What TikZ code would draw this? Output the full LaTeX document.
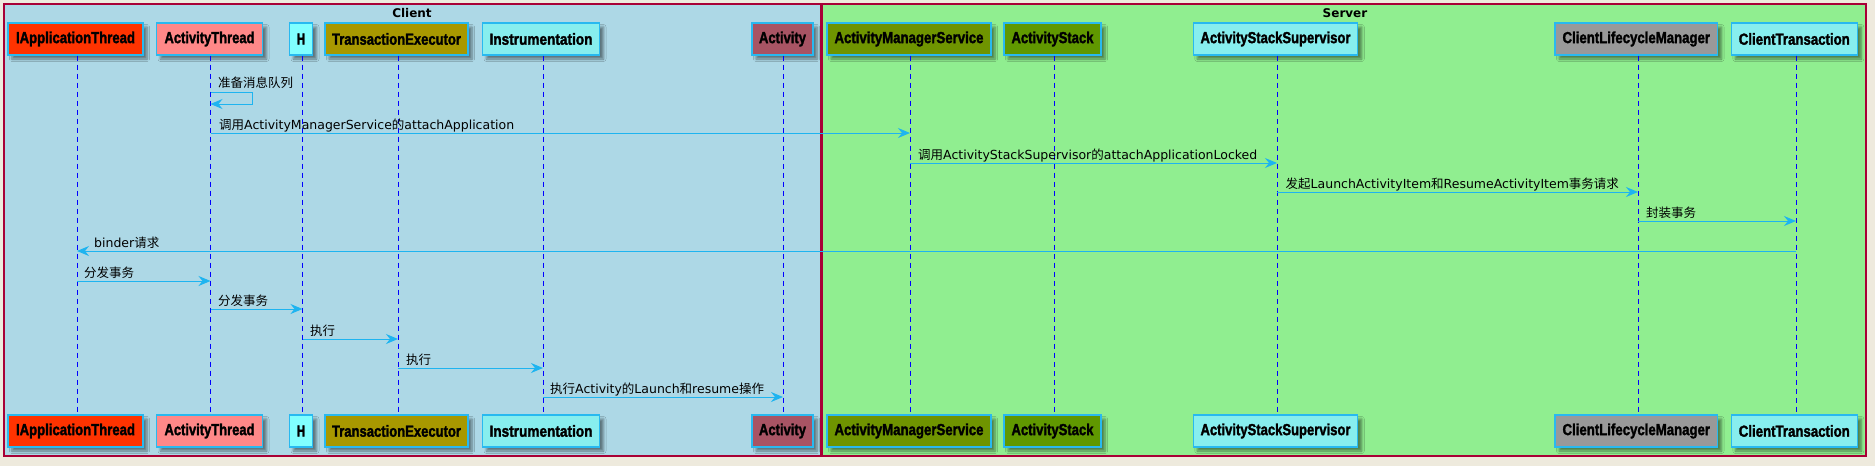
\documentclass[tikz,border=0pt]{standalone}
\usepackage{fontspec}
\usepackage{graphicx}
\setmainfont{DejaVu Sans}
\newfontfamily\cjk{Noto Sans CJK SC}
\newfontfamily\pfontfam{Liberation Sans}[BoldFeatures={FakeBold=2}]
\usetikzlibrary{arrows.meta,shadows.blur}
\definecolor{pagebg}{RGB}{238,234,221}
\definecolor{clientbg}{RGB}{173,216,230}
\definecolor{serverbg}{RGB}{144,238,144}
\definecolor{framec}{RGB}{168,0,54}
\definecolor{partborder}{RGB}{40,185,240}
\definecolor{arrowc}{RGB}{30,180,240}
\definecolor{cIAT}{RGB}{255,51,0}
\definecolor{cAT}{RGB}{255,136,136}
\definecolor{cH}{RGB}{128,255,255}
\definecolor{cTE}{RGB}{168,152,0}
\definecolor{cCyan}{RGB}{135,238,238}
\definecolor{cAct}{RGB}{168,84,100}
\definecolor{cAMS}{RGB}{111,148,0}
\definecolor{cAS}{RGB}{96,152,0}
\definecolor{cCLM}{RGB}{153,153,153}
\newcommand\pfont{\pfontfam\bfseries\fontsize{16}{16}\selectfont}
\newcommand\lfont{\fontsize{12.5}{14}\selectfont}
\newcommand\fitpname[2]{\resizebox{#1}{\height}{#2}}
\tikzset{
  part/.style={draw=partborder, line width=1.2pt, minimum height=32pt, inner sep=0pt,
    font=\pfont, text=black,
    blur shadow={shadow xshift=4pt, shadow yshift=-4pt, shadow blur radius=2.5pt,
      shadow blur steps=5, shadow opacity=45}},
  lifeline/.style={draw=blue, dash pattern=on 5pt off 4pt, line width=0.9pt},
  msg/.style={draw=arrowc, line width=1pt, -{Stealth[length=12pt,width=10pt,inset=4pt]}},
  lbl/.style={font=\lfont, inner sep=0pt, anchor=base west, text=black},
  frame/.style={draw=framec, line width=1.3pt},
  ftitle/.style={font=\bfseries\fontsize{12}{12}\selectfont, inner sep=0pt, text=black},
}
\begin{document}
\begin{tikzpicture}[x=1pt,y=-1pt]
\useasboundingbox (0,0) rectangle (1875,466);
\fill[pagebg] (0,0) rectangle (1875,466);
% boxes
\draw[frame, fill=clientbg] (4,4) rectangle (820.5,456);
\draw[frame, fill=serverbg] (822,4) rectangle (1866,456);
\node[ftitle] (tclient) at (412,13) {Client};
\node[ftitle] (tserver) at (1345,13) {Server};
% participants top and bottom
\foreach \y/\s in {39/T, 431/B}{
  \node[part, fill=cIAT, minimum width=135pt] (iat\s) at (75.5,\y) {\fitpname{119pt}{IApplicationThread}};
  \node[part, fill=cAT, minimum width=106pt] (at\s) at (209.5,\y) {\fitpname{90pt}{ActivityThread}};
  \node[part, fill=cH, minimum width=23pt] (h\s) at (301,\y) {\fitpname{8pt}{H}};
  \node[part, fill=cTE, minimum width=143pt] (te\s) at (396.5,\y) {\fitpname{129pt}{TransactionExecutor}};
  \node[part, fill=cCyan, minimum width=117pt] (ins\s) at (541,\y) {\fitpname{103pt}{Instrumentation}};
  \node[part, fill=cAct, minimum width=61pt] (act\s) at (782.5,\y) {\fitpname{47pt}{Activity}};
  \node[part, fill=cAMS, minimum width=164pt] (ams\s) at (909,\y) {\fitpname{149pt}{ActivityManagerService}};
  \node[part, fill=cAS, minimum width=97pt] (as\s) at (1052.5,\y) {\fitpname{82pt}{ActivityStack}};
  \node[part, fill=cCyan, minimum width=164.5pt] (ass\s) at (1275.5,\y) {\fitpname{150pt}{ActivityStackSupervisor}};
  \node[part, fill=cCLM, minimum width=162.5pt] (clm\s) at (1636.3,\y) {\fitpname{147.5pt}{ClientLifecycleManager}};
  \node[part, fill=cCyan, minimum width=126pt] (ct\s) at (1794.3,\y) {\fitpname{111pt}{ClientTransaction}};
}
% lifelines
\foreach \n/\x in {iat/77, at/210.5, h/302.5, te/398, ins/543, act/783, ams/910, as/1054, ass/1277, clm/1638, ct/1796}{
  \coordinate (L-\n) at (\x,55);
  \draw[lifeline] (\n T.south -| L-\n) -- (\n B.north -| L-\n);
}
% messages
\draw[msg] (L-at |- 0,92) -- ++(42,0) -- ++(0,12) -- (L-at |- 0,104);
\node[lbl] (m0) at (218,87.5) {\cjk 准备消息队列};
\draw[msg] (L-at |- 0,133) -- (L-ams |- 0,133);
\node[lbl] (m1) at (219,129) {{\cjk 调用}ActivityManagerService{\cjk 的}attachApplication};
\draw[msg] (L-ams |- 0,163) -- (L-ass |- 0,163);
\node[lbl] (m2) at (918,159) {{\cjk 调用}ActivityStackSupervisor{\cjk 的}attachApplicationLocked};
\draw[msg] (L-ass |- 0,192) -- (L-clm |- 0,192);
\node[lbl] (m3) at (1285.5,188) {{\cjk 发起}LaunchActivityItem{\cjk 和}ResumeActivityItem{\cjk 事务请求}};
\draw[msg] (L-clm |- 0,221) -- (L-ct |- 0,221);
\node[lbl] (m4) at (1646,217) {\cjk 封装事务};
\draw[msg] (L-ct |- 0,251) -- (L-iat |- 0,251);
\node[lbl] (m5) at (94,247) {binder{\cjk 请求}};
\draw[msg] (L-iat |- 0,281) -- (L-at |- 0,281);
\node[lbl] (m6) at (84,277) {\cjk 分发事务};
\draw[msg] (L-at |- 0,309) -- (L-h |- 0,309);
\node[lbl] (m7) at (218,305) {\cjk 分发事务};
\draw[msg] (L-h |- 0,339) -- (L-te |- 0,339);
\node[lbl] (m8) at (310,335) {\cjk 执行};
\draw[msg] (L-te |- 0,368) -- (L-ins |- 0,368);
\node[lbl] (m9) at (406,364) {\cjk 执行};
\draw[msg] (L-ins |- 0,397) -- (L-act |- 0,397);
\node[lbl] (m10) at (550,393) {{\cjk 执行}Activity{\cjk 的}Launch{\cjk 和}resume{\cjk 操作}};
\end{tikzpicture}
\end{document}
